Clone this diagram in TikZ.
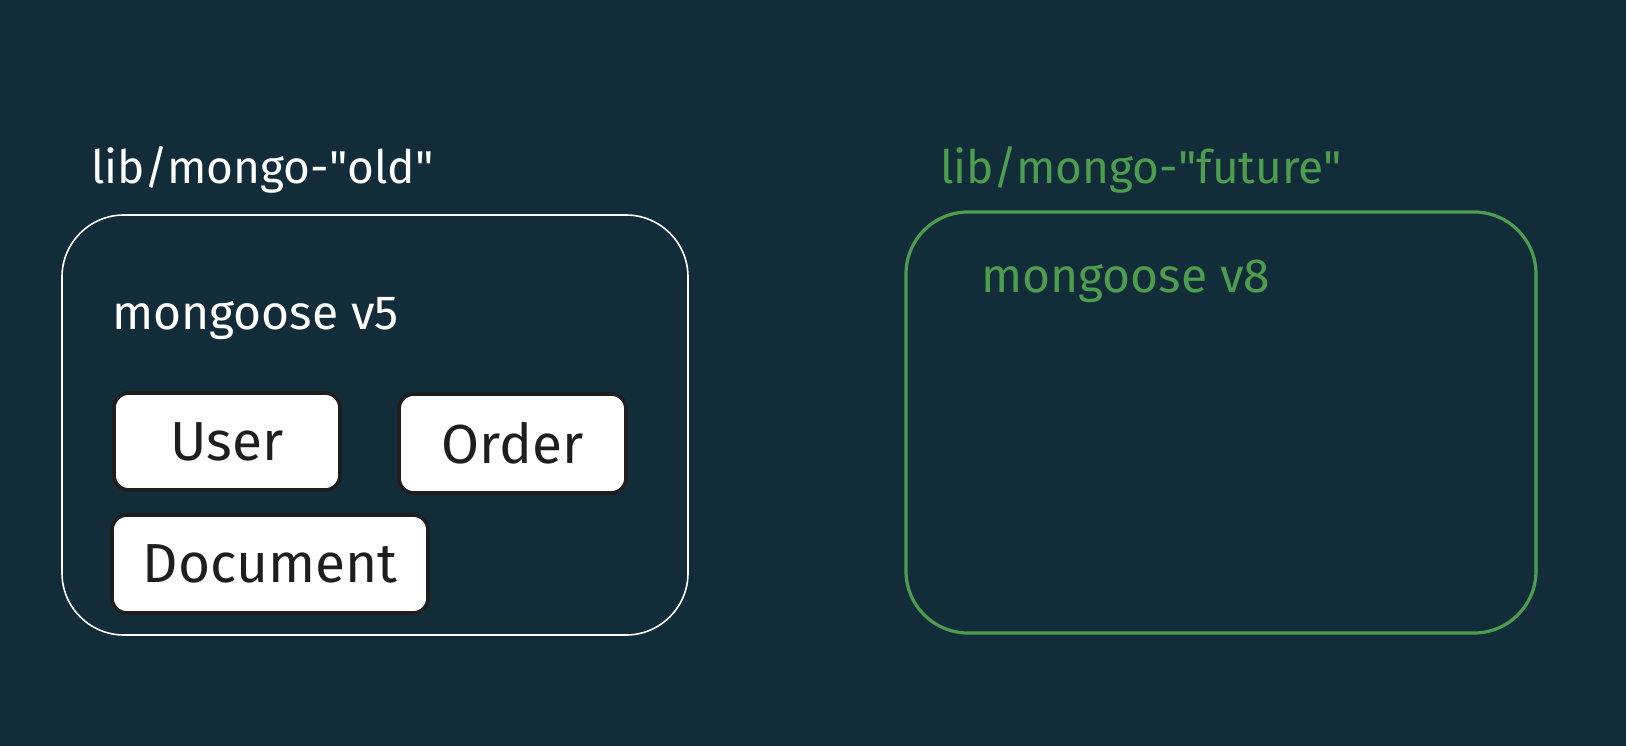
\documentclass[tikz,border=0pt]{standalone}
\usepackage{fontspec}
\setmainfont{Fira Sans}
\definecolor{bg}{HTML}{132C3A}
\definecolor{grn}{HTML}{4C9E4E}
\definecolor{ink}{HTML}{1E1E1E}
\tikzset{
  title/.style={anchor=base west, inner sep=0pt, font=\fontsize{46}{50}\selectfont},
  sub/.style={anchor=base west, inner sep=0pt, font=\fontsize{48}{52}\selectfont},
  frame/.style={rectangle, rounded corners=62pt, inner sep=0pt},
  model/.style={rectangle, draw=ink, fill=white, line width=3.6pt, rounded corners=15pt, inner sep=0pt, text=ink, font=\fontsize{55}{60}\selectfont},
}
\begin{document}
\begin{tikzpicture}[x=1pt,y=-1pt]
\fill[bg] (0,0) rectangle (1626,746);
\useasboundingbox (0,0) rectangle (1626,746);
% left group
\node[title, text=white] (toldlbl) at (91,184) {lib/mongo-\textquotedbl old\textquotedbl};
\node[frame, draw=white, line width=1.6pt, minimum width=626pt, minimum height=420pt] (old) at (375,425) {};
\node[sub, text=white] (v5) at (112,330) {mongoose v5};
\node[model, minimum width=226pt, minimum height=97pt] (user) at (227,441.5) {User};
\node[model, minimum width=227pt, minimum height=99pt] (order) at (512.5,443.5) {Order};
\node[model, minimum width=316pt, minimum height=98pt] (doc) at (270,564) {Document};
% right group
\node[title, text=grn] (tnewlbl) at (940,184) {lib/mongo-\textquotedbl future\textquotedbl};
\node[frame, draw=grn, line width=3.2pt, minimum width=630pt, minimum height=421pt] (new) at (1221,422.5) {};
\node[sub, text=grn] (v8) at (981,292) {mongoose v8};
\end{tikzpicture}
\end{document}
